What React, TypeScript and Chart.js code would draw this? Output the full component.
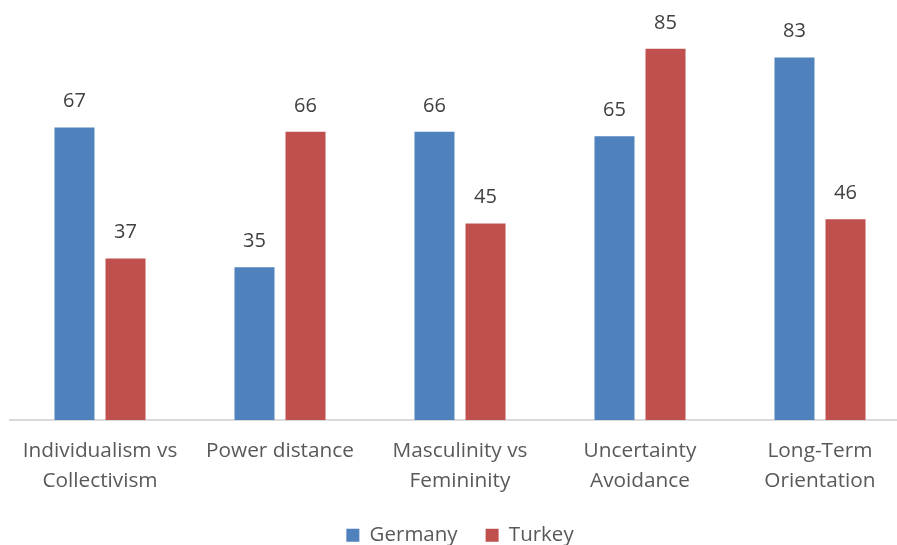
import React, { useEffect, useRef } from "react";
import { Chart, registerables } from "chart.js";

Chart.register(...registerables);

const categories: string[][] = [
  ["Individualism vs", "Collectivism"],
  ["Power distance"],
  ["Masculinity vs", "Femininity"],
  ["Uncertainty", "Avoidance"],
  ["Long-Term", "Orientation"],
];
const germany = [67, 35, 66, 65, 83];
const turkey = [37, 66, 45, 85, 46];
const seriesNames = ["Germany", "Turkey"];

const FONT = "'Open Sans', sans-serif";

const valueLabels = {
  id: "valueLabels",
  afterDatasetsDraw(chart: any) {
    const ctx = chart.ctx;
    ctx.save();
    ctx.font = `20px ${FONT}`;
    ctx.fillStyle = "#404040";
    ctx.textAlign = "center";
    ctx.textBaseline = "middle";
    chart.data.datasets.forEach((ds: any, i: number) => {
      const meta = chart.getDatasetMeta(i);
      meta.data.forEach((bar: any, j: number) => {
        ctx.fillText(String(ds.data[j]), bar.x, bar.y - 26);
      });
    });
    ctx.restore();
  },
};

const legendHeightFix = {
  id: "legendHeightFix",
  beforeLayout(chart: any) {
    const lg = chart.legend;
    if (lg && !lg.__patched) {
      const orig = lg.fit;
      lg.fit = function () {
        orig.call(this);
        this.height = 48;
      };
      lg.__patched = true;
    }
  },
};

export default function App() {
  const ref = useRef<HTMLCanvasElement>(null);
  useEffect(() => {
    if (!ref.current) return;
    const chart = new Chart(ref.current, {
      type: "bar",
      data: {
        labels: categories,
        datasets: [
          { label: seriesNames[0], data: germany, backgroundColor: "#4f81bd" },
          { label: seriesNames[1], data: turkey, backgroundColor: "#c0504d" },
        ],
      },
      options: {
        animation: false,
        responsive: true,
        maintainAspectRatio: false,
        layout: { padding: { left: 10, right: 2, top: 27, bottom: 0 } },
        datasets: {
          bar: { categoryPercentage: 0.567, barPercentage: 0.784 },
        },
        scales: {
          x: {
            grid: { display: false },
            border: { display: true, color: "#d9d9d9", width: 2 },
            ticks: {
              color: "#595959",
              font: { family: FONT, size: 20.8, lineHeight: 1.45 },
              padding: 8,
              maxRotation: 0,
            },
            afterFit(scale: any) {
              scale.height = 77;
            },
          },
          y: { display: false, min: 0, max: 90 },
        },
        plugins: {
          tooltip: { enabled: false },
          legend: {
            position: "bottom",
            labels: {
              color: "#595959",
              font: { family: FONT, size: 20.5 },
              boxWidth: 13,
              boxHeight: 13,
              padding: 28,
            },
          },
        },
      },
      plugins: [valueLabels, legendHeightFix],
    });
    return () => chart.destroy();
  }, []);
  return (
    <div style={{ position: "fixed", left: 0, top: 0, width: 897, height: 545, overflow: "hidden", background: "#fff" }}>
      <div style={{ width: 912, height: 545, position: "relative" }}>
        <canvas ref={ref} />
      </div>
    </div>
  );
}
